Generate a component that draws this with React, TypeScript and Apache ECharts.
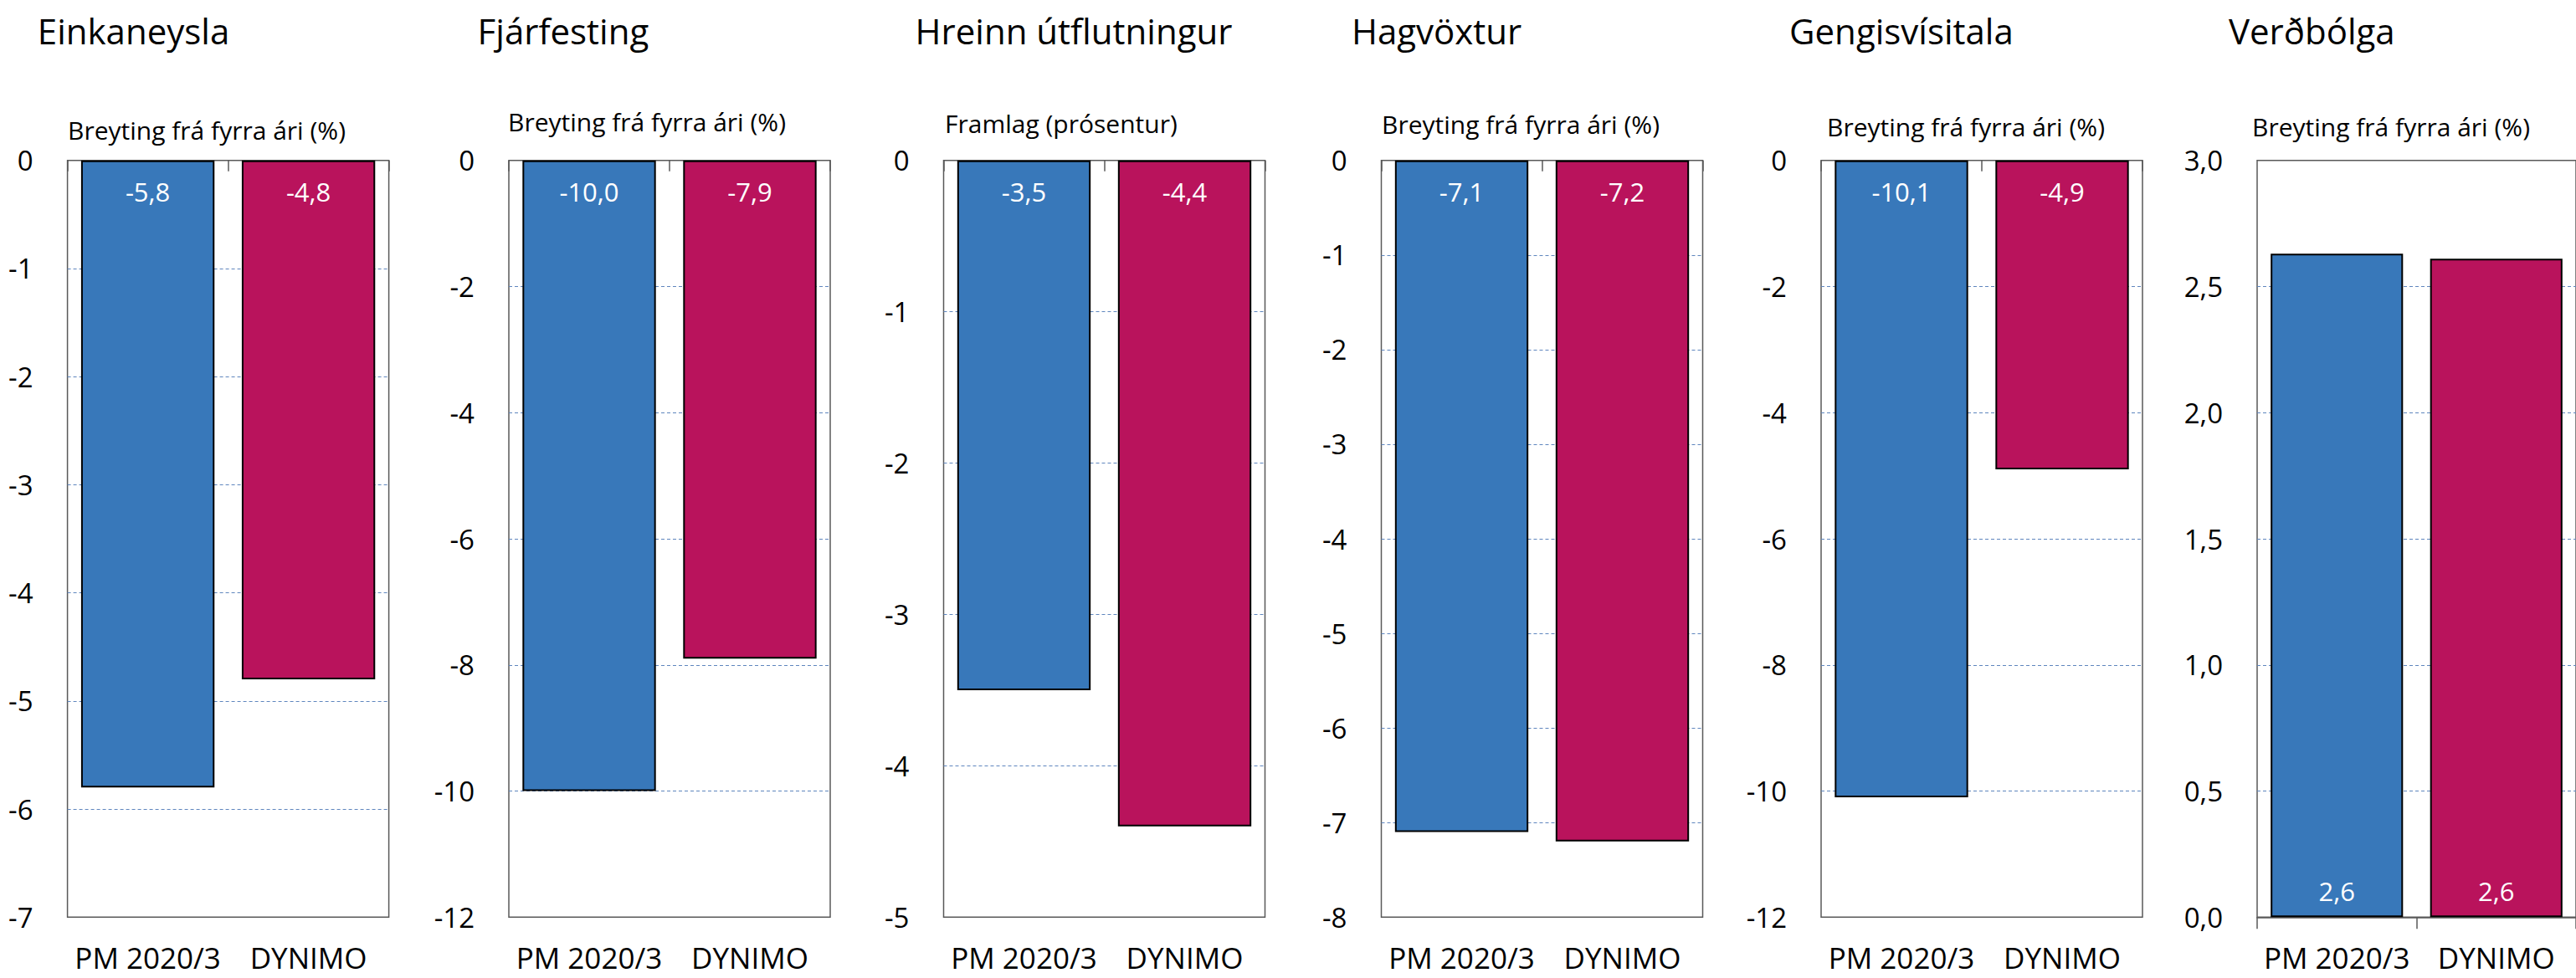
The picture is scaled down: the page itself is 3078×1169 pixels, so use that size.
import React, { useEffect, useRef } from "react";
import * as echarts from "echarts";

// Chart content
const categories = ["PM 2020/3", "DYNIMO"];
const panelTitles = [
  "Einkaneysla",
  "Fjárfesting",
  "Hreinn útflutningur",
  "Hagvöxtur",
  "Gengisvísitala",
  "Verðbólga",
];
const panelUnits = [
  "Breyting frá fyrra ári (%)",
  "Breyting frá fyrra ári (%)",
  "Framlag (prósentur)",
  "Breyting frá fyrra ári (%)",
  "Breyting frá fyrra ári (%)",
  "Breyting frá fyrra ári (%)",
];
const pmValues = [-5.8, -10.0, -3.5, -7.1, -10.1, 2.63];
const dynimoValues = [-4.8, -7.9, -4.4, -7.2, -4.9, 2.61];
const axisMin = [-7, -12, -5, -8, -12, 0];
const axisMax = [0, 0, 0, 0, 0, 3];
const axisStep = [1, 2, 1, 1, 2, 0.5];

// Layout of the six small panels (pixels)
const plotLeft = [80.6, 608, 1127.5, 1650.5, 2176, 2697];
const plotWidth = 384;
const plotTop = 191.7;
const plotHeight = 904.6;
const titleX = [44.8, 570.6, 1093.6, 1615, 2138, 2663];
const unitX = [81, 607, 1129, 1651, 2183, 2691];
const unitBaseline = [167, 157, 159, 160, 163, 163];

const FONT = "'Open Sans', sans-serif";
const BLUE = "#3878BA";
const MAGENTA = "#B9135C";
const FRAME = "#595959";

const fmt = (v: number, decimals: number) =>
  (decimals > 0 ? v.toFixed(decimals) : String(v)).replace(".", ",");

export default function App() {
  const ref = useRef<HTMLDivElement>(null);

  useEffect(() => {
    if (!ref.current) return;
    const chart = echarts.init(ref.current, undefined, { renderer: "svg" });

    const grids: any[] = [];
    const xAxes: any[] = [];
    const yAxes: any[] = [];
    const series: any[] = [];
    const graphics: any[] = [];

    panelTitles.forEach((title, i) => {
      const positive = axisMin[i] >= 0;
      const decimals = axisStep[i] < 1 ? 1 : 0;

      grids.push({
        left: plotLeft[i],
        top: plotTop,
        width: plotWidth,
        height: plotHeight,
        show: true,
        borderColor: FRAME,
        borderWidth: 1.5,
        backgroundColor: "transparent",
        containLabel: false,
      });

      // Bottom category axis carrying the labels
      xAxes.push({
        type: "category",
        gridIndex: i,
        data: categories,
        position: "bottom",
        axisLine: { show: positive, onZero: false, lineStyle: { color: FRAME, width: 1.5 } },
        axisTick: { show: positive, length: 14, lineStyle: { color: FRAME, width: 1.5 } },
        axisLabel: {
          interval: 0,
          margin: 31,
          fontFamily: FONT,
          fontSize: 35,
          lineHeight: 35,
          color: "#000",
        },
      });
      // Top axis with inward ticks at the zero line for the negative panels
      xAxes.push({
        type: "category",
        gridIndex: i,
        data: categories,
        position: "top",
        axisLine: { show: false },
        axisTick: {
          show: !positive,
          inside: true,
          length: 13,
          lineStyle: { color: FRAME, width: 1.5 },
        },
        axisLabel: { show: false },
      });

      yAxes.push({
        type: "value",
        gridIndex: i,
        min: axisMin[i],
        max: axisMax[i],
        interval: axisStep[i],
        axisLine: { show: false },
        axisTick: { show: false },
        axisLabel: {
          margin: 41,
          fontFamily: FONT,
          fontSize: 33,
          color: "#000",
          formatter: (v: number) => fmt(v, decimals),
        },
        splitLine: {
          show: true,
          showMinLine: false,
          showMaxLine: false,
          lineStyle: { color: "#5F86BE", width: 1, type: [4, 3] },
        },
      });

      series.push({
        type: "bar",
        xAxisIndex: i * 2,
        yAxisIndex: i,
        barCategoryGap: "17%",
        data: [
          { value: pmValues[i], itemStyle: { color: BLUE } },
          { value: dynimoValues[i], itemStyle: { color: MAGENTA } },
        ],
        itemStyle: { borderColor: "#000", borderWidth: 2 },
        label: {
          show: true,
          position: positive ? "insideBottom" : "insideTop",
          distance: positive ? 16 : 22,
          fontFamily: FONT,
          fontSize: 31,
          color: "#fff",
          formatter: (p: any) => fmt(p.value, 1),
        },
      });

      graphics.push({
        type: "text",
        x: titleX[i],
        y: 36,
        style: {
          text: title,
          font: `42px ${FONT}`,
          fill: "#000",
          textAlign: "left",
          textVerticalAlign: "middle",
        },
      });
      graphics.push({
        type: "text",
        x: unitX[i],
        y: unitBaseline[i] - 11.5,
        style: {
          text: panelUnits[i],
          font: `30px ${FONT}`,
          fill: "#000",
          textAlign: "left",
          textVerticalAlign: "middle",
        },
      });
    });

    chart.setOption({
      animation: false,
      backgroundColor: "#fff",
      textStyle: { fontFamily: FONT },
      grid: grids,
      xAxis: xAxes,
      yAxis: yAxes,
      series,
      graphic: graphics,
    });

    return () => chart.dispose();
  }, []);

  return (
    <div
      ref={ref}
      style={{
        position: "fixed",
        left: 0,
        top: 0,
        width: 3078,
        height: 1169,
        background: "#fff",
      }}
    />
  );
}
